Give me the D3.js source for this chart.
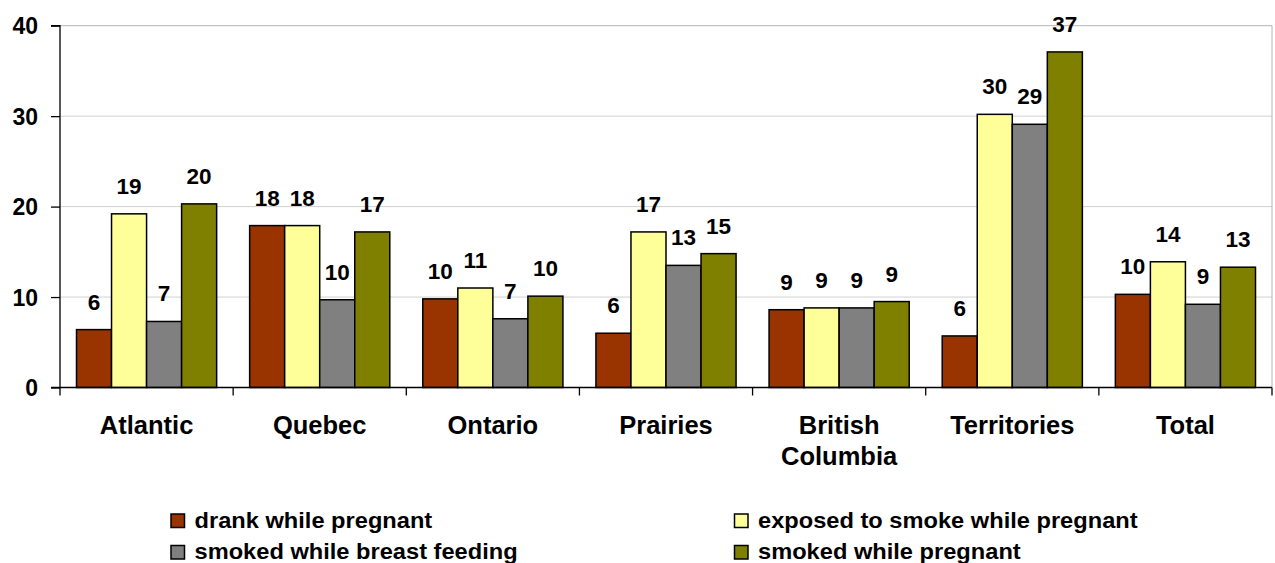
<!DOCTYPE html>
<html><head><meta charset="utf-8">
<script src="https://cdn.jsdelivr.net/npm/d3@7"></script>
<style>body{margin:0;background:#fff;} svg{display:block;font-family:"Liberation Sans",Arial,sans-serif;font-weight:bold;}</style>
</head><body>
<svg id="c" width="1275" height="563"></svg>
<script>
const categories = ["Atlantic","Quebec","Ontario","Prairies","British Columbia","Territories","Total"];
const seriesNames = ["drank while pregnant","exposed to smoke while pregnant","smoked while breast feeding","smoked while pregnant"];
const drank   = [6.4, 17.9, 9.8, 6.0, 8.6, 5.7, 10.3];
const exposed = [19.2, 17.9, 11.0, 17.2, 8.8, 30.2, 13.9];
const smokedBF= [7.3, 9.7, 7.6, 13.5, 8.8, 29.1, 9.2];
const smokedP = [20.3, 17.2, 10.1, 14.8, 9.5, 37.1, 13.3];
const labels = [
  ["6","18","10","6","9","6","10"],
  ["19","18","11","17","9","30","14"],
  ["7","10","7","13","9","29","9"],
  ["20","17","10","15","9","37","13"]
];
const yTicks = [0,10,20,30,40];
const colors = ["#993300","#FFFF99","#808080","#808000"];
const series = [drank, exposed, smokedBF, smokedP];

const svg = d3.select("#c");
const x0 = d3.scaleBand().domain(categories).range([60,1272]).paddingInner(0).paddingOuter(0);
const x1 = d3.scaleBand().domain(d3.range(4)).range([16.5, x0.bandwidth()-16.5]);
const y = d3.scaleLinear().domain([0,40]).range([387.5,25.7]);

// gridlines
svg.append("g").selectAll("line").data(yTicks.filter(d=>d>0 && d<40)).join("line")
  .attr("x1",60).attr("x2",1272).attr("y1",d=>y(d)).attr("y2",d=>y(d))
  .attr("stroke","#d0d0d0").attr("stroke-width",1);
// plot border top/right
svg.append("path").attr("d",`M60,${y(40)}H1272V${y(0)}`).attr("fill","none").attr("stroke","#b4b4b4").attr("stroke-width",1);

// bars
const g = svg.append("g");
categories.forEach((c,ci)=>{
  series.forEach((s,si)=>{
    g.append("rect").attr("x",x0(c)+x1(si)).attr("y",y(s[ci]))
      .attr("width",x1.bandwidth()).attr("height",y(0)-y(s[ci]))
      .attr("fill",colors[si]).attr("stroke","#000").attr("stroke-width",1.5);
    g.append("text").attr("x",x0(c)+x1(si)+x1.bandwidth()/2).attr("y",y(s[ci])-20)
      .attr("text-anchor","middle").attr("font-size",22.5).attr("fill","#000").text(labels[si][ci]);
  });
});

// y axis
const yAxis = d3.axisLeft(y).tickValues(yTicks).tickSize(9).tickPadding(13).tickFormat(d3.format("d"));
const ya = svg.append("g").attr("transform","translate(60,0)").call(yAxis);
ya.selectAll("text").attr("font-size",23).attr("fill","#000").attr("font-family","Liberation Sans, Arial").attr("font-weight","bold").attr("dy","0.35em");
ya.selectAll("line,path").attr("stroke","#000").attr("stroke-width",1.3);
ya.select(".domain").attr("d",`M-9,${y(40)}H0V${y(0)}H-9`);

// x axis
const xa = svg.append("g").attr("transform",`translate(0,${y(0)})`);
xa.append("line").attr("x1",60).attr("x2",1272).attr("stroke","#000").attr("stroke-width",1.3);
const tickX = categories.map(c=>x0(c)).concat([1272]);
xa.selectAll(".tk").data(tickX).join("line").attr("x1",d=>d).attr("x2",d=>d).attr("y1",0).attr("y2",8).attr("stroke","#000").attr("stroke-width",1.3);
categories.forEach(c=>{
  const words = c==="British Columbia" ? ["British","Columbia"] : [c];
  const t = xa.append("text").attr("text-anchor","middle").attr("font-size",25.5).attr("fill","#000");
  words.forEach((w,i)=>t.append("tspan").attr("x",x0(c)+x0.bandwidth()/2).attr("y",46+i*31.7).text(w));
});

// legend
const legPos = [[171,514],[734.5,514],[171,545.5],[734.5,545.5]];
seriesNames.forEach((n,i)=>{
  const [lx,ly] = legPos[i];
  svg.append("rect").attr("x",lx).attr("y",ly).attr("width",13.5).attr("height",13.5)
    .attr("fill",colors[i]).attr("stroke","#000").attr("stroke-width",1.5);
  svg.append("text").attr("transform",`translate(${lx+23.5},${ly+13.7}) scale(1.075,1)`)
    .attr("font-size",22).attr("fill","#000").text(n);
});
</script>
</body></html>
